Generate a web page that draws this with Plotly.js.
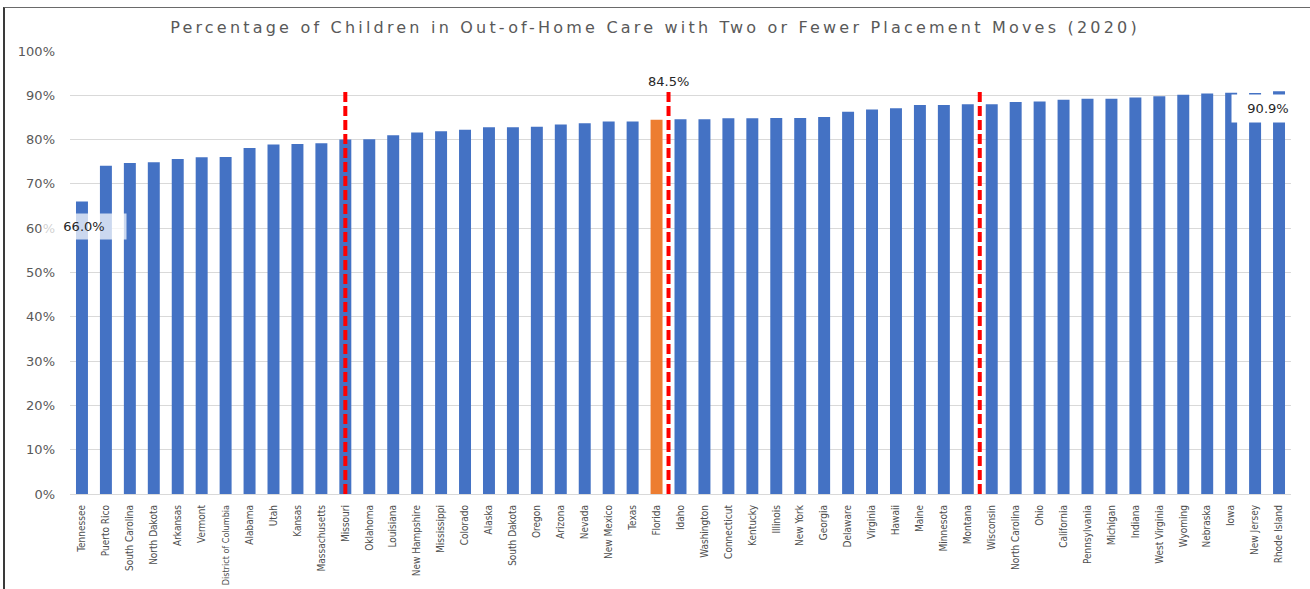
<!DOCTYPE html>
<html>
<head>
<meta charset="utf-8">
<script src="https://cdn.plot.ly/plotly-3.0.1.min.js"></script>
<style>
  html, body { margin: 0; padding: 0; background: #ffffff; }
  #wrap { position: relative; width: 1310px; height: 589px; overflow: hidden; }
  #chart { position: absolute; left: 0; top: 0; width: 1310px; height: 589px; }
  #frame { position: absolute; left: 3px; top: 7px; width: 1320px; height: 600px;
           border-left: 2px solid #3a3a3a; border-top: 1px solid #6a6a6a; pointer-events: none; }
  .gtitle { letter-spacing: 3.2px; }
</style>
</head>
<body>
<div id="wrap">
  <div id="chart"></div>
  <div id="frame"></div>
</div>
<script>
const states = ["Tennessee","Puerto Rico","South Carolina","North Dakota","Arkansas","Vermont",
  "District of Columbia","Alabama","Utah","Kansas","Massachusetts","Missouri","Oklahoma","Louisiana",
  "New Hampshire","Mississippi","Colorado","Alaska","South Dakota","Oregon","Arizona","Nevada",
  "New Mexico","Texas","Florida","Idaho","Washington","Connecticut","Kentucky","Illinois","New York",
  "Georgia","Delaware","Virginia","Hawaii","Maine","Minnesota","Montana","Wisconsin","North Carolina",
  "Ohio","California","Pennsylvania","Michigan","Indiana","West Virginia","Wyoming","Nebraska","Iowa",
  "New Jersey","Rhode Island"];
const pctTwoOrFewer = [66.0,74.1,74.7,74.9,75.6,76.0,
  76.1,78.1,78.9,79.0,79.2,80.0,80.1,81.0,
  81.6,81.9,82.2,82.8,82.8,82.9,83.4,83.7,
  84.1,84.1,84.5,84.6,84.6,84.8,84.8,84.9,84.9,
  85.1,86.3,86.8,87.1,87.8,87.8,88.0,88.0,88.5,
  88.6,89.0,89.2,89.2,89.5,89.8,90.1,90.4,90.6,
  90.5,90.9];
const highlightState = "Florida";
// dashed reference markers: category index positions (quartile-style dividers)
const dividerPositions = [11, 24.5, 37.5];
const dividerTop = 91;
const yTicks = [0,10,20,30,40,50,60,70,80,90,100];
const labelMin = {state: "Tennessee", text: "66.0%"};
const labelMid = {pos: 24.5, text: "84.5%"};
const labelMax = {state: "Rhode Island", text: "90.9%"};

const colors = states.map(s => s === highlightState ? "#ED7D31" : "#4472C4");
// long names get a slightly smaller font so they fit above the bottom edge
const tickLabels = states.map(s => s.length > 16 ? '<span style="font-size:9px">' + s + '</span>' : s);

const trace = {
  type: "bar",
  x: states,
  y: pctTwoOrFewer,
  marker: { color: colors, line: { width: 0 } },
  hoverinfo: "x+y"
};

const shapes = dividerPositions.map(p => ({
  type: "line", xref: "x", yref: "y",
  x0: p, x1: p, y0: 0, y1: dividerTop,
  line: { color: "#FF0000", width: 4, dash: "10px,4px" }
}));

const layout = {
  width: 1310, height: 589,
  margin: { l: 70, r: 19, t: 51, b: 95, pad: 0 },
  paper_bgcolor: "#ffffff",
  plot_bgcolor: "#ffffff",
  showlegend: false,
  bargap: 0.5,
  title: {
    text: "Percentage of Children in Out-of-Home Care with Two or Fewer Placement Moves (2020)",
    font: { family: "DejaVu Sans", size: 16, color: "#595959" },
    x: 0.5, xref: "container", xanchor: "center",
    y: 0.953, yref: "container", yanchor: "middle"
  },
  xaxis: {
    type: "category",
    range: [-0.5, states.length - 0.5],
    tickmode: "array",
    tickvals: states,
    ticktext: tickLabels,
    tickangle: -90,
    tickfont: { family: "DejaVu Sans Condensed", size: 10, color: "#4d4d4d" },
    showgrid: false,
    showline: true, linecolor: "#d9d9d9", linewidth: 1,
    ticks: "",
    ticklabelstandoff: 6,
    automargin: false
  },
  yaxis: {
    range: [0, 100],
    tickvals: yTicks,
    ticktext: yTicks.map(v => v + "%"),
    tickfont: { family: "DejaVu Sans", size: 13, color: "#595959" },
    showgrid: true, gridcolor: "#d9d9d9", gridwidth: 1,
    zeroline: false,
    showline: false,
    ticks: "",
    ticklabelstandoff: 14,
    automargin: false
  },
  shapes: shapes,
  annotations: [
    {
      x: labelMin.state, y: 60.3, xref: "x", yref: "y",
      text: labelMin.text, showarrow: false,
      xshift: 2,
      width: 82, height: 23,
      bgcolor: "rgba(255,255,255,0.72)",
      font: { family: "DejaVu Sans", size: 13, color: "#262626" }
    },
    {
      x: labelMid.pos, y: 93.2, xref: "x", yref: "y",
      text: labelMid.text, showarrow: false,
      font: { family: "DejaVu Sans", size: 13, color: "#262626" }
    },
    {
      x: labelMax.state, y: 87.1, xref: "x", yref: "y",
      text: labelMax.text, showarrow: false,
      xshift: -11,
      width: 70, height: 25,
      bgcolor: "#ffffff",
      font: { family: "DejaVu Sans", size: 13, color: "#262626" }
    }
  ]
};

Plotly.newPlot("chart", [trace], layout, { displayModeBar: false, staticPlot: true });
</script>
</body>
</html>
